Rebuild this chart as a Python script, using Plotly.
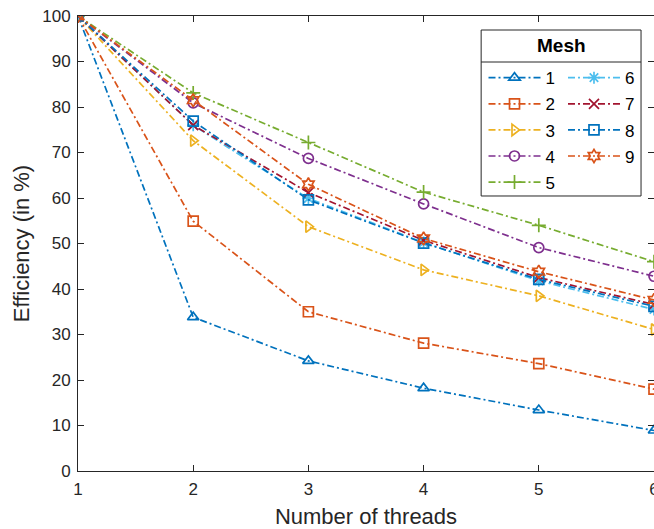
import plotly.graph_objects as go

threads = [1, 2, 3, 4, 5, 6]
mesh_names = ["1", "2", "3", "4", "5", "6", "7", "8", "9"]
eff_1 = [100, 33.8, 24.2, 18.2, 13.4, 8.9]
eff_2 = [100, 54.9, 35.0, 28.1, 23.6, 18.0]
eff_3 = [100, 72.6, 53.7, 44.2, 38.5, 31.1]
eff_4 = [100, 80.9, 68.7, 58.7, 49.1, 42.8]
eff_5 = [100, 83.1, 72.2, 61.3, 54.0, 46.0]
eff_6 = [100, 76.0, 59.9, 50.2, 41.8, 35.5]
eff_7 = [100, 76.0, 61.2, 50.7, 42.5, 36.6]
eff_8 = [100, 76.9, 59.6, 50.1, 42.1, 36.2]
eff_9 = [100, 81.5, 63.0, 51.1, 43.8, 37.6]
series = [eff_1, eff_2, eff_3, eff_4, eff_5, eff_6, eff_7, eff_8, eff_9]

colors = ["#0072BD", "#D95319", "#EDB120", "#7E2F8E", "#77AC30",
          "#4DBEEE", "#A2142F", "#0072BD", "#D95319"]
symbols = ["triangle-up-open", "square-open", "triangle-right-open", "circle-open",
           "cross-thin-open", "asterisk-open", "x-thin-open", "square-open", "hexagram-open"]

FONT = "Liberation Sans, Arial, sans-serif"

fig = go.Figure()
for i in range(9):
    fig.add_trace(go.Scatter(
        x=threads, y=series[i], name=mesh_names[i], mode="lines+markers",
        legend="legend" if i < 5 else "legend2",
        legendgroup="g%d" % i,
        line=dict(color=colors[i], width=1.7, dash="7px,3px,2px,3px"),
        marker=dict(symbol=symbols[i], size=10, color=colors[i],
                    line=dict(color=colors[i], width=1.7)),
    ))

axis_common = dict(
    showline=True, linecolor="#262626", linewidth=1, mirror="ticks",
    ticks="inside", ticklen=6, tickcolor="#262626", tickwidth=1,
    showgrid=False, zeroline=False, ticklabelstandoff=3,
    tickfont=dict(family=FONT, size=17, color="#262626"),
)

fig.update_xaxes(range=[1, 6], tickvals=threads, ticklabeloverflow="allow", **axis_common,
                 title=dict(text="Number of threads",
                            font=dict(family=FONT, size=22, color="#262626"),
                            standoff=10))
fig.update_yaxes(range=[0, 100], dtick=10, **axis_common,
                 title=dict(text="Efficiency (in %)",
                            font=dict(family=FONT, size=22, color="#262626"),
                            standoff=6))

leg_common = dict(
    orientation="v", xanchor="left", yanchor="top",
    bgcolor="rgba(0,0,0,0)", borderwidth=0, tracegroupgap=1, itemwidth=52,
    font=dict(family=FONT, size=17, color="black"),
)

fig.update_layout(
    width=654, height=529,
    margin=dict(l=77.5, r=0, t=16, b=58, autoexpand=False),
    plot_bgcolor="white", paper_bgcolor="white",
    showlegend=True,
    legend=dict(x=0.704, y=0.903, **leg_common),
    legend2=dict(x=0.842, y=0.903, **leg_common),
    shapes=[
        dict(type="rect", xref="paper", yref="paper", x0=0.6999, x1=0.9775,
             y0=0.6044, y1=0.9692, line=dict(color="#262626", width=1),
             fillcolor="rgba(0,0,0,0)", layer="above"),
        dict(type="line", xref="paper", yref="paper", x0=0.6999, x1=0.9775,
             y0=0.8989, y1=0.8989, line=dict(color="#262626", width=1), layer="above"),
    ],
    annotations=[
        dict(text="<b>Mesh</b>", xref="paper", yref="paper", x=0.8387, y=0.9341,
             xanchor="center", yanchor="middle", showarrow=False,
             font=dict(family=FONT, size=19, color="black")),
    ],
)

fig.write_html("out.html", config={"displayModeBar": False},
               post_script="document.body.style.margin='0px';")
